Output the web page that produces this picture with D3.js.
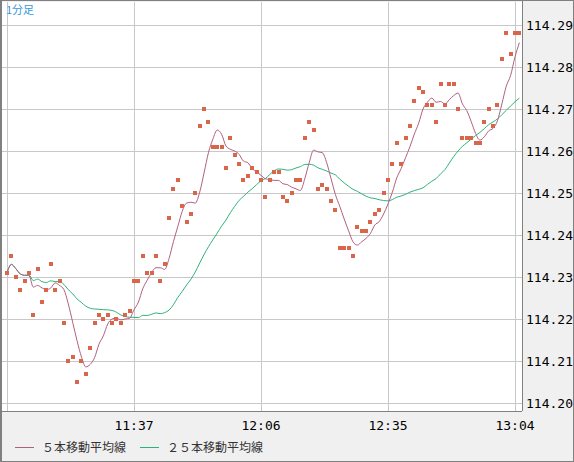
<!DOCTYPE html>
<html><head><meta charset="utf-8">
<script src="https://cdn.jsdelivr.net/npm/d3@7"></script>
<style>body{margin:0;background:#f0f0f0}</style>
</head><body>
<script>
const W = 574, H = 462;
const plotL = 2, plotR = 522, plotT = 2, plotB = 411;

// 1-minute closes from 11:08 onward
const prices = [
  114.231, 114.235, 114.230, 114.227, 114.229, 114.231, 114.221, 114.232, 114.224, 114.227,
  114.233, 114.227, 114.229, 114.219, 114.210, 114.211, 114.205, 114.210, 114.207, 114.213,
  114.219, 114.221, 114.220, 114.221, 114.219, 114.220, 114.219, 114.221, 114.222, 114.229,
  114.229, 114.235, 114.231, 114.231, 114.235, 114.229, 114.233, 114.244, 114.251, 114.253,
  114.247, 114.243, 114.245, 114.250, 114.266, 114.270, 114.267, 114.261, 114.261, 114.261,
  114.256, 114.263, 114.259, 114.257, 114.253, 114.254, 114.256, 114.255, 114.253, 114.249,
  114.253, 114.255, 114.255, 114.249, 114.248, 114.250, 114.253, 114.253, 114.263, 114.267,
  114.265, 114.251, 114.252, 114.251, 114.248, 114.246, 114.237, 114.237, 114.237, 114.235,
  114.242, 114.241, 114.241, 114.243, 114.245, 114.246, 114.250, 114.253, 114.257, 114.262,
  114.257, 114.263, 114.266, 114.272, 114.275, 114.274, 114.271, 114.271, 114.267, 114.276,
  114.271, 114.276, 114.276, 114.270, 114.263, 114.263, 114.263, 114.262, 114.262, 114.267,
  114.270, 114.266, 114.271, 114.282, 114.288, 114.283, 114.288, 114.288
];
const startMinute = 11 * 60 + 8;
const xTicks = ["11:08", "11:37", "12:06", "12:35", "13:04"];
const yTicks = [114.20, 114.21, 114.22, 114.23, 114.24, 114.25, 114.26, 114.27, 114.28, 114.29];
const legendNames = ["５本移動平均線", "２５本移動平均線"];
const colors = { dot: "#d9664a", ma5: "#b0607f", ma25: "#2db37a" };

function toMin(s) { const p = s.split(":"); return +p[0] * 60 + +p[1]; }
function movingAvg(arr, n) {
  return arr.map((v, i) => {
    const s = arr.slice(Math.max(0, i - n + 1), i + 1);
    return d3.mean(s);
  });
}
const ma5 = movingAvg(prices, 5);
const ma25 = movingAvg(prices, 25);

const x = d3.scaleLinear().domain([toMin("11:08"), toMin("13:04")]).range([7, 515]);
const y = d3.scaleLinear().domain([114.20, 114.29]).range([403, 25]);

const svg = d3.select("body").append("svg").attr("width", W).attr("height", H)
  .style("font-family", "'DejaVu Sans Mono', monospace");

svg.append("rect").attr("width", W).attr("height", H).attr("fill", "#f0f0f0");
svg.append("rect").attr("x", plotL).attr("y", plotT).attr("width", plotR - plotL).attr("height", plotB - plotT).attr("fill", "#fff");

const grid = svg.append("g").attr("stroke", "#c8c8c8").attr("stroke-width", 1);
yTicks.forEach(v => grid.append("line").attr("x1", plotL).attr("x2", plotR)
  .attr("y1", Math.round(y(v)) + 0.5).attr("y2", Math.round(y(v)) + 0.5));
xTicks.forEach(t => grid.append("line").attr("y1", plotT).attr("y2", plotB)
  .attr("x1", Math.round(x(toMin(t))) + 0.5).attr("x2", Math.round(x(toMin(t))) + 0.5));

// borders
svg.append("line").attr("x1", 1).attr("x2", 1).attr("y1", 0).attr("y2", H).attr("stroke", "#808080").attr("stroke-width", 2);
svg.append("line").attr("x1", plotR + 0.5).attr("x2", plotR + 0.5).attr("y1", 0).attr("y2", plotB).attr("stroke", "#808080");
svg.append("line").attr("x1", 0).attr("x2", plotR).attr("y1", plotB + 0.5).attr("y2", plotB + 0.5).attr("stroke", "#808080");
svg.append("rect").attr("x", 0.5).attr("y", 0.5).attr("width", W - 1).attr("height", H - 1).attr("fill", "none").attr("stroke", "#808080");

const line = d3.line().x((d, i) => x(startMinute + i)).y(d => y(d)).curve(d3.curveMonotoneX);
svg.append("path").attr("d", line(ma25)).attr("fill", "none").attr("stroke", colors.ma25).attr("stroke-width", 1);
svg.append("path").attr("d", line(ma5)).attr("fill", "none").attr("stroke", colors.ma5).attr("stroke-width", 1);

svg.append("g").selectAll("rect").data(prices).enter().append("rect")
  .attr("x", (d, i) => Math.round(x(startMinute + i)) - 2)
  .attr("y", d => Math.round(y(d)) - 2)
  .attr("width", 4).attr("height", 4).attr("fill", colors.dot);

// axis labels
svg.append("g").selectAll("text").data(yTicks).enter().append("text")
  .attr("x", 526).attr("y", d => y(d) + 5).attr("font-size", 13).attr("fill", "#000")
  .text(d => d.toFixed(2));
svg.append("g").selectAll("text").data(xTicks.slice(1)).enter().append("text")
  .attr("x", d => x(toMin(d))).attr("y", 430).attr("font-size", 13).attr("text-anchor", "middle")
  .text(d => d);

svg.append("text").attr("x", 6).attr("y", 14).attr("font-size", 11).attr("fill", "#3399dd")
  .style("font-family", "'Noto Sans CJK JP', sans-serif").text("1分足");

const legendX = [15, 140];
[colors.ma5, colors.ma25].forEach((c, i) => {
  svg.append("line").attr("x1", legendX[i]).attr("x2", legendX[i] + 19)
    .attr("y1", 447.5).attr("y2", 447.5).attr("stroke", c);
  svg.append("text").attr("x", legendX[i] + 27).attr("y", 452).attr("font-size", 12)
    .style("font-family", "'Noto Sans CJK JP', sans-serif").attr("fill", "#333").text(legendNames[i]);
});
</script>
</body></html>
